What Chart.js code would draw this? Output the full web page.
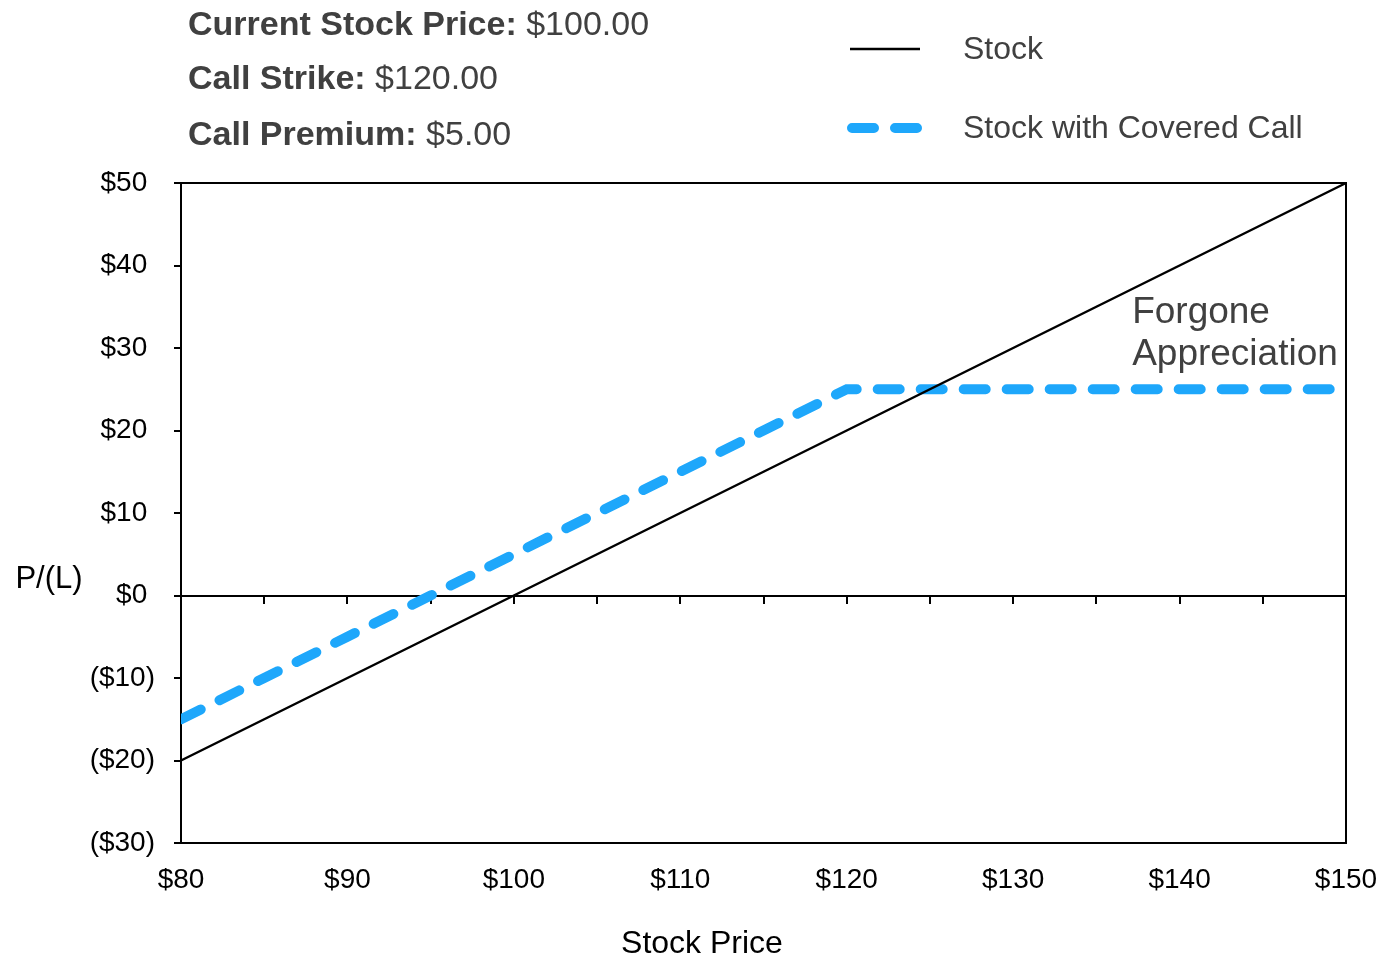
<!DOCTYPE html>
<html><head><meta charset="utf-8">
<script src="https://cdn.jsdelivr.net/npm/chart.js@4/dist/chart.umd.min.js"></script>
<style>html,body{margin:0;padding:0;background:#fff;} canvas{display:block}</style>
</head><body>
<canvas id="c" width="1394" height="959"></canvas>
<script>
const stockPrices   = [80, 85, 90, 95, 100, 105, 110, 115, 120, 125, 130, 135, 140, 145, 150];
const stockPL       = [-20, -15, -10, -5, 0, 5, 10, 15, 20, 25, 30, 35, 40, 45, 50];
const coveredCallPL = [-15, -10, -5, 0, 5, 10, 15, 20, 25, 25, 25, 25, 25, 25, 25];
const xTicks = [80, 90, 100, 110, 120, 130, 140, 150];
const yTicks = [-30, -20, -10, 0, 10, 20, 30, 40, 50];
const zeroLineTicks = [80, 85, 90, 95, 100, 105, 110, 115, 120, 125, 130, 135, 140, 145, 150];
const seriesNames = ['Stock', 'Stock with Covered Call'];
const headerLabels = ['Current Stock Price:', 'Call Strike:', 'Call Premium:'];
const headerValues = ['$100.00', '$120.00', '$5.00'];
const annotationLines = ['Forgone', 'Appreciation'];
const xTitle = 'Stock Price';
const yTitle = 'P/(L)';

const FONT = '"Liberation Sans", Arial, sans-serif';
const BLUE = '#1EA7FB';
const GRAY = '#404040';

function fmtY(v) { return v < 0 ? '($' + (-v) + ')' : '$' + v + ' '; }

const extras = {
  id: 'extras',
  afterDraw(chart) {
    const ctx = chart.ctx, a = chart.chartArea;
    const xs = chart.scales.x, ys = chart.scales.y;
    ctx.save();
    // top & right frame
    ctx.strokeStyle = '#000'; ctx.lineWidth = 2; ctx.lineCap = 'butt';
    ctx.beginPath();
    ctx.moveTo(a.left - 1, a.top); ctx.lineTo(a.right, a.top); ctx.lineTo(a.right, a.bottom + 1);
    ctx.stroke();

    // header
    ctx.textBaseline = 'middle'; ctx.textAlign = 'left'; ctx.fillStyle = GRAY;
    const hy = [26, 80, 136];
    headerLabels.forEach((lab, i) => {
      ctx.font = 'bold 34px ' + FONT;
      ctx.fillText(lab, 188, hy[i]);
      const w = ctx.measureText(lab + ' ').width;
      ctx.font = '34px ' + FONT;
      ctx.fillText(headerValues[i], 188 + w, hy[i]);
    });

    // legend
    const ds = chart.data.datasets;
    const ly = [49, 128];
    ds.forEach((d, i) => {
      ctx.save();
      ctx.strokeStyle = d.borderColor; ctx.lineWidth = d.borderWidth;
      ctx.lineCap = d.borderCapStyle || 'butt';
      ctx.setLineDash(d.borderDash || []);
      ctx.beginPath();
      if (i === 0) { ctx.moveTo(850, ly[i]); ctx.lineTo(920, ly[i]); }
      else { ctx.moveTo(852, ly[i]); ctx.lineTo(917, ly[i]); }
      ctx.stroke();
      ctx.restore();
      ctx.font = '32px ' + FONT; ctx.fillStyle = GRAY;
      ctx.fillText(d.label, 963, ly[i] + 1);
    });

    // annotation
    ctx.font = '37px ' + FONT; ctx.fillStyle = GRAY;
    ctx.fillText(annotationLines[0], xs.getPixelForValue(137.15), ys.getPixelForValue(34.3));
    ctx.fillText(annotationLines[1], xs.getPixelForValue(137.15), ys.getPixelForValue(29.2));

    // axis titles
    ctx.font = '31px ' + FONT; ctx.fillStyle = '#000'; ctx.textAlign = 'center';
    ctx.fillText(yTitle, 49, ys.getPixelForValue(0) - 16);
    ctx.font = '32px ' + FONT;
    ctx.fillText(xTitle, 702, a.bottom + 101);
    ctx.restore();
  }
};

new Chart(document.getElementById('c'), {
  type: 'line',
  data: {
    datasets: [
      {
        label: seriesNames[0],
        data: stockPrices.map((x, i) => ({ x: x, y: stockPL[i] })),
        borderColor: '#000', borderWidth: 2.5, pointRadius: 0, tension: 0, fill: false, clip: 2
      },
      {
        label: seriesNames[1],
        data: stockPrices.map((x, i) => ({ x: x, y: coveredCallPL[i] })),
        borderColor: BLUE, borderWidth: 10, borderDash: [22, 21], borderCapStyle: 'round',
        pointRadius: 0, tension: 0, fill: false, clip: 0
      }
    ]
  },
  options: {
    responsive: false,
    animation: false,
    devicePixelRatio: 1,
    layout: { padding: { top: 183, right: 48, left: 90, bottom: 0 } },
    plugins: { legend: { display: false }, tooltip: { enabled: false }, title: { display: false } },
    scales: {
      x: {
        type: 'linear', min: 80, max: 150,
        afterBuildTicks: s => { s.ticks = xTicks.map(v => ({ value: v })); },
        afterFit: s => { s.height = 116; s.paddingLeft = 0; s.paddingRight = 0; },
        grid: { display: false, drawTicks: false },
        border: { display: true, color: '#000', width: 2 },
        ticks: { color: '#000', font: { family: FONT, size: 28 }, padding: 20, maxRotation: 0, autoSkip: false,
                 callback: v => '$' + v },
        title: { display: false }
      },
      xZero: {
        type: 'linear', min: 80, max: 150, position: { y: 0 },
        afterBuildTicks: s => { s.ticks = zeroLineTicks.map(v => ({ value: v })); },
        afterFit: s => { s.paddingLeft = 0; s.paddingRight = 0; },
        grid: { display: true, drawOnChartArea: false, drawTicks: true, tickLength: 7, color: '#000', lineWidth: 2 },
        border: { display: true, color: '#000', width: 2 },
        ticks: { display: false }
      },
      y: {
        type: 'linear', min: -30, max: 50,
        afterBuildTicks: s => { s.ticks = yTicks.map(v => ({ value: v })); },
        afterFit: s => { s.width = 91; },
        grid: { display: true, drawOnChartArea: false, drawTicks: true, tickLength: 7, color: '#000', lineWidth: 2 },
        border: { display: true, color: '#000', width: 2 },
        ticks: { color: '#000', font: { family: FONT, size: 28 }, padding: 19, callback: v => fmtY(v) }
      }
    }
  },
  plugins: [extras]
});
</script>
</body></html>
